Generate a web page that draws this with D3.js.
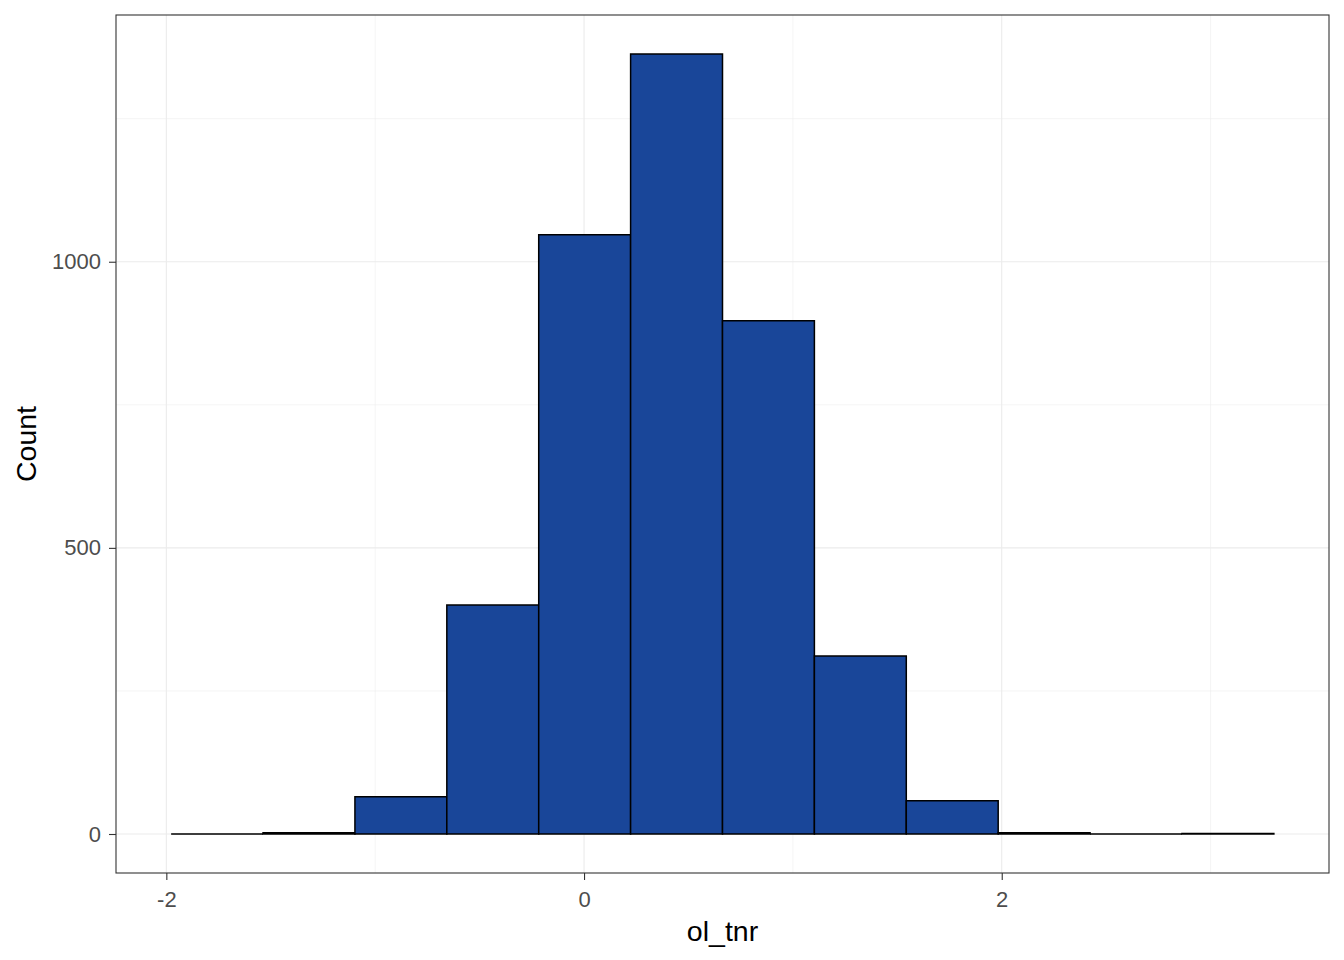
<!DOCTYPE html>
<html><head><meta charset="utf-8">
<script src="https://cdn.jsdelivr.net/npm/d3@7"></script>
<style>body{margin:0;background:#fff}text{font-family:"Liberation Sans",Arial,sans-serif}</style>
</head><body><svg id="c" width="1344" height="960"></svg>
<script>
const binStart = -1.977;
const binWidth = 0.4400;
const counts = [0, 2, 65, 400, 1047, 1363, 897, 311, 58, 2, 0, 1];
const xTicks = [-2, 0, 2];
const xMinor = [-1, 1, 3];
const yTicks = [0, 500, 1000];
const yMinor = [250, 750, 1250];
const xLabel = "ol_tnr";
const yLabel = "Count";

const bins = counts.map((c, i) => ({x0: binStart + i * binWidth, x1: binStart + (i + 1) * binWidth, n: c}));

const L = 116, R = 1329, T = 15, B = 873;
const svg = d3.select("#c");
const xmin = bins[0].x0, xmax = bins[bins.length - 1].x1;
const xe = (xmax - xmin) * 0.05;
const ymax = d3.max(counts), ye = ymax * 0.05;
const x = d3.scaleLinear().domain([xmin - xe, xmax + xe]).range([L, R]);
const y = d3.scaleLinear().domain([-ye, ymax + ye]).range([B, T]);

const g = svg.append("g");
g.append("rect").attr("x", L).attr("y", T).attr("width", R - L).attr("height", B - T).attr("fill", "#fff");
// minor grid
g.selectAll(".xm").data(xMinor).join("line").attr("x1", d => x(d)).attr("x2", d => x(d)).attr("y1", T).attr("y2", B).attr("stroke", "#EBEBEB").attr("stroke-width", 0.55);
g.selectAll(".ym").data(yMinor).join("line").attr("y1", d => y(d)).attr("y2", d => y(d)).attr("x1", L).attr("x2", R).attr("stroke", "#EBEBEB").attr("stroke-width", 0.55);
// major grid
g.selectAll(".xM").data(xTicks).join("line").attr("x1", d => x(d)).attr("x2", d => x(d)).attr("y1", T).attr("y2", B).attr("stroke", "#EBEBEB").attr("stroke-width", 1.1);
g.selectAll(".yM").data(yTicks).join("line").attr("y1", d => y(d)).attr("y2", d => y(d)).attr("x1", L).attr("x2", R).attr("stroke", "#EBEBEB").attr("stroke-width", 1.1);

// bars (paths so that zero-count bins still show their outline at the baseline)
g.selectAll(".bar").data(bins).join("path")
  .attr("d", d => {
    const x0 = x(d.x0), x1 = x(d.x1), y0 = y(0), y1 = y(d.n);
    return `M${x0},${y0}L${x0},${y1}L${x1},${y1}L${x1},${y0}Z`;
  })
  .attr("fill", "#194699").attr("stroke", "#000").attr("stroke-width", 1.5);

// border
g.append("rect").attr("x", L).attr("y", T).attr("width", R - L).attr("height", B - T).attr("fill", "none").attr("stroke", "#333333").attr("stroke-width", 1.1);

// axes
const xa = svg.append("g").attr("transform", `translate(0,${B})`)
  .call(d3.axisBottom(x).tickValues(xTicks).tickFormat(d3.format("d")).tickSize(7).tickPadding(11));
const ya = svg.append("g").attr("transform", `translate(${L},0)`)
  .call(d3.axisLeft(y).tickValues(yTicks).tickFormat(d3.format("d")).tickSize(7).tickPadding(8));
[xa, ya].forEach(a => {
  a.select(".domain").remove();
  a.selectAll(".tick line").attr("stroke", "#333333").attr("stroke-width", 1.1);
  a.selectAll(".tick text").attr("fill", "#4D4D4D").style("font-size", "22px").style("font-family", "Liberation Sans, Arial, sans-serif");
});
xa.selectAll(".tick text").text(d => d < 0 ? "-" + Math.abs(d) : d);

svg.append("text").attr("x", (L + R) / 2).attr("y", 941).attr("text-anchor", "middle")
  .style("font-size", "28.5px").attr("fill", "#000").text(xLabel);
svg.append("text").attr("transform", `translate(36,${(T + B) / 2}) rotate(-90)`).attr("text-anchor", "middle")
  .style("font-size", "28.5px").attr("fill", "#000").text(yLabel);
</script></body></html>
